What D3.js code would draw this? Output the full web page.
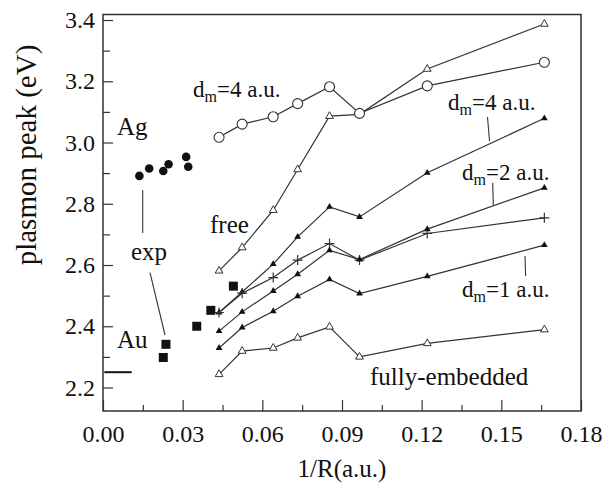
<!DOCTYPE html>
<html><head><meta charset="utf-8">
<script src="https://cdn.jsdelivr.net/npm/d3@7/dist/d3.min.js"></script>
<style>body{margin:0;background:#fff}</style>
</head><body>
<svg id="c" width="602" height="484"></svg>
<script>
// ---------- data ----------
const xCalc = [0.0437, 0.0524, 0.0641, 0.0733, 0.0853, 0.0966, 0.1221, 0.1662];
const freeVals = [2.581, 2.657, 2.779, 2.912, 3.086, 3.092, 3.240, 3.387];
const circleD4Vals = [3.017, 3.060, 3.084, 3.127, 3.182, 3.095, 3.185, 3.262];
const filledD4Vals = [2.445, 2.512, 2.603, 2.692, 2.790, 2.757, 2.901, 3.079];
const crossVals = [2.445, 2.508, 2.559, 2.616, 2.670, 2.616, 2.703, 2.754];
const filledD2Vals = [2.384, 2.447, 2.515, 2.570, 2.648, 2.618, 2.717, 2.852];
const filledD1Vals = [2.329, 2.396, 2.449, 2.498, 2.553, 2.507, 2.563, 2.665];
const embeddedVals = [2.243, 2.319, 2.329, 2.362, 2.398, 2.300, 2.344, 2.389];

const agX = [0.0137, 0.0174, 0.0227, 0.0247, 0.0313, 0.0321];
const agY = [2.891, 2.915, 2.907, 2.929, 2.953, 2.921];
const auX = [0.0227, 0.0237, 0.0353, 0.0406, 0.0491];
const auY = [2.298, 2.341, 2.400, 2.452, 2.531];
const auBulkX = [0.0005, 0.0108];
const auBulkY = 2.25;

const xTicksMajor = [0.00, 0.03, 0.06, 0.09, 0.12, 0.15, 0.18];
const xTicksMinor = [0.015, 0.045, 0.075, 0.105, 0.135, 0.165];
const yTicksMajor = [2.2, 2.4, 2.6, 2.8, 3.0, 3.2, 3.4];
const yTicksMinor = [2.3, 2.5, 2.7, 2.9, 3.1, 3.3];

// ---------- layout ----------
const L = 103, R = 581, T = 14.5, B = 411;
const FONT = "'Liberation Serif','Times New Roman',serif";
const INK = "#111", LINE = "#333";

const svg = d3.select("#c");
const x = d3.scaleLinear().domain([0, 0.18]).range([L, R]);
const y = d3.scaleLinear().domain([2.1233, 3.418]).range([B, T]);

// axes (inward ticks)
svg.append("g").attr("transform", `translate(0,${B})`)
  .call(d3.axisBottom(x).tickValues(xTicksMajor).tickFormat(d3.format(".2f"))
    .tickSizeInner(-11).tickSizeOuter(0).tickPadding(14));
svg.append("g").attr("transform", `translate(0,${B})`)
  .call(d3.axisBottom(x).tickValues(xTicksMinor).tickFormat("")
    .tickSizeInner(-6).tickSizeOuter(0));
svg.append("g").attr("transform", `translate(${L},0)`)
  .call(d3.axisLeft(y).tickValues(yTicksMajor).tickFormat(d3.format(".1f"))
    .tickSizeInner(-10).tickSizeOuter(0).tickPadding(8));
svg.append("g").attr("transform", `translate(${L},0)`)
  .call(d3.axisLeft(y).tickValues(yTicksMinor).tickFormat("")
    .tickSizeInner(-7).tickSizeOuter(0));
svg.selectAll(".domain").remove();
svg.selectAll(".tick line").attr("stroke", LINE).attr("stroke-width", 1.2);
svg.selectAll(".tick text").attr("font-family", FONT).attr("font-size", 24).attr("fill", INK);

// frame
svg.append("rect").attr("x", L).attr("y", T).attr("width", R - L).attr("height", B - T)
  .attr("fill", "none").attr("stroke", LINE).attr("stroke-width", 1.5);

// axis titles
svg.append("text").attr("x", (L + R) / 2).attr("y", 477).attr("text-anchor", "middle")
  .attr("font-family", FONT).attr("font-size", 25).attr("fill", INK).text("1/R(a.u.)");
svg.append("text").attr("transform", "translate(36,155) rotate(-90)").attr("text-anchor", "middle")
  .attr("font-family", FONT).attr("font-size", 29).attr("fill", INK).text("plasmon peak (eV)");

// ---------- series ----------
const line = d3.line().x(d => x(d[0])).y(d => y(d[1]));
function series(vals, marker) {
  const pts = xCalc.map((xv, i) => [xv, vals[i]]);
  svg.append("path").datum(pts).attr("d", line).attr("fill", "none")
    .attr("stroke", LINE).attr("stroke-width", 1.2);
  const g = svg.append("g");
  pts.forEach(p => {
    const cx = x(p[0]), cy = y(p[1]);
    if (marker === "openTri") {
      g.append("path").attr("d", d3.symbol(d3.symbolTriangle, 26)())
        .attr("transform", `translate(${cx},${cy})`).attr("fill", "#fff")
        .attr("stroke", LINE).attr("stroke-width", 1);
    } else if (marker === "filledTri") {
      g.append("path").attr("d", d3.symbol(d3.symbolTriangle, 20)())
        .attr("transform", `translate(${cx},${cy})`).attr("fill", "#111");
    } else if (marker === "circle") {
      g.append("circle").attr("cx", cx).attr("cy", cy).attr("r", 5)
        .attr("fill", "#fff").attr("stroke", LINE).attr("stroke-width", 1.1);
    } else if (marker === "cross") {
      g.append("path").attr("d", `M${cx - 5},${cy}H${cx + 5}M${cx},${cy - 5}V${cy + 5}`)
        .attr("stroke", LINE).attr("stroke-width", 1.2);
    }
  });
}
series(freeVals, "openTri");
series(circleD4Vals, "circle");
series(filledD4Vals, "filledTri");
series(crossVals, "cross");
series(filledD2Vals, "filledTri");
series(filledD1Vals, "filledTri");
series(embeddedVals, "openTri");

// experimental
svg.append("g").selectAll("circle").data(agX.map((v, i) => [v, agY[i]])).join("circle")
  .attr("cx", d => x(d[0])).attr("cy", d => y(d[1])).attr("r", 4.3).attr("fill", "#111");
svg.append("g").selectAll("rect").data(auX.map((v, i) => [v, auY[i]])).join("rect")
  .attr("x", d => x(d[0]) - 4.5).attr("y", d => y(d[1]) - 4.5)
  .attr("width", 9).attr("height", 9).attr("fill", "#111");
svg.append("line").attr("x1", x(auBulkX[0])).attr("x2", x(auBulkX[1]))
  .attr("y1", y(auBulkY)).attr("y2", y(auBulkY)).attr("stroke", "#111").attr("stroke-width", 2);

// ---------- annotations ----------
function label(xp, yp, txt, size) {
  svg.append("text").attr("x", xp).attr("y", yp).attr("font-family", FONT)
    .attr("font-size", size || 25).attr("fill", INK).text(txt);
}
function dmLabel(xp, yp, num) {
  const t = svg.append("text").attr("x", xp).attr("y", yp).attr("font-family", FONT)
    .attr("font-size", 23).attr("fill", INK);
  t.append("tspan").text("d");
  t.append("tspan").attr("font-size", 16).attr("dy", 5).text("m");
  t.append("tspan").attr("dy", -5).text(`=${num} a.u.`);
}
function leader(x1, y1, x2, y2) {
  svg.append("line").attr("x1", x1).attr("y1", y1).attr("x2", x2).attr("y2", y2)
    .attr("stroke", LINE).attr("stroke-width", 1.1);
}
dmLabel(193, 97, 4);
dmLabel(448, 110, 4);
dmLabel(462, 180, 2);
dmLabel(462, 297, 1);
leader(487.5, 117, 489.5, 141);
leader(492.7, 183, 493.3, 205);
leader(525, 256, 525.6, 276);
label(117, 135, "Ag", 25);
label(117, 348, "Au", 25);
label(210, 233, "free", 25);
label(131, 260, "exp", 25);
label(370, 385, "fully-embedded", 25);
leader(142.7, 190, 142.7, 233);
leader(150, 272.7, 165, 335);
</script>
</body></html>
